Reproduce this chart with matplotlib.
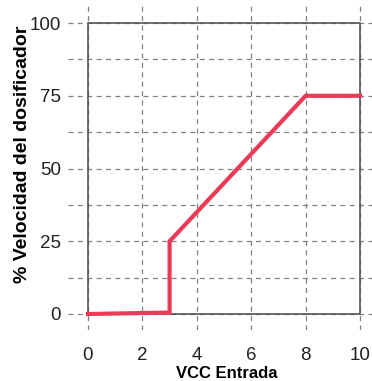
import matplotlib
matplotlib.use("Agg")
import matplotlib.pyplot as plt

plt.rcParams['font.family'] = ['Liberation Sans Narrow', 'Liberation Sans', 'DejaVu Sans']

# data
vcc = [0, 3, 3, 8, 10]
velocidad = [0, 0.5, 25, 75, 75]
x_ticks = [0, 2, 4, 6, 8, 10]
y_ticks = [0, 25, 50, 75, 100]
y_minor = [12.5, 37.5, 62.5, 87.5]

fig = plt.figure(figsize=(3.72, 3.81), dpi=100)
ax = fig.add_axes([68/372, 1-330/381, 304/372, 327/381])

ax.set_xlim(-0.735, 10.44)
ax.set_ylim(-5.5, 106.9)

# box around the data area
ax.plot([0, 10, 10, 0, 0], [0, 0, 100, 100, 0], color="#555555", lw=1.2, zorder=2)

ax.plot(vcc, velocidad, color="#EA3A58", lw=3, solid_joinstyle="miter", zorder=3)

ax.set_xticks(x_ticks)
ax.set_yticks(y_ticks)
ax.set_yticks(y_minor, minor=True)
ax.grid(True, which="both", color="#808080", linestyle=(0, (4, 3.5)), lw=0.9)
ax.tick_params(which="both", length=0, labelsize=13.5, colors="#222222")
ax.tick_params(axis="x", pad=12)
ax.tick_params(axis="y", pad=5)

for s in ax.spines.values():
    s.set_visible(False)

ax.set_xlabel("VCC Entrada", fontsize=12, fontweight="bold")
ax.set_ylabel("% Velocidad del dosificador", fontsize=14, fontweight="bold")
ax.xaxis.set_label_coords((227-68)/304, -36/327)
ax.yaxis.set_label_coords(-37/304, (330-154)/327)

fig.savefig("out.png", dpi=100)
